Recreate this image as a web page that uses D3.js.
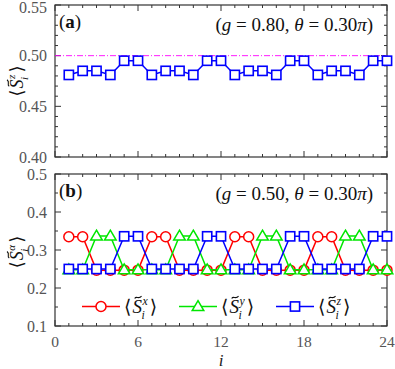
<!DOCTYPE html>
<html><head><meta charset="utf-8">
<script src="https://cdn.jsdelivr.net/npm/d3@7"></script>
<style>body{margin:0;background:#fff}svg{display:block}</style>
</head><body>
<script>
const sites = d3.range(1, 25);
const szA = [0.481,0.485,0.485,0.481,0.495,0.495,0.481,0.485,0.485,0.481,0.495,0.495,0.481,0.485,0.485,0.481,0.495,0.495,0.481,0.485,0.485,0.481,0.495,0.495];
const sxB = [0.335,0.335,0.247,0.247,0.247,0.247,0.335,0.335,0.247,0.247,0.247,0.247,0.335,0.335,0.247,0.247,0.247,0.247,0.335,0.335,0.247,0.247,0.247,0.247];
const syB = [0.248,0.248,0.337,0.337,0.248,0.248,0.248,0.248,0.337,0.337,0.248,0.248,0.248,0.248,0.337,0.337,0.248,0.248,0.248,0.248,0.337,0.337,0.248,0.248];
const szB = [0.25,0.25,0.25,0.25,0.336,0.336,0.25,0.25,0.25,0.25,0.336,0.336,0.25,0.25,0.25,0.25,0.336,0.336,0.25,0.25,0.25,0.25,0.336,0.336];
const xTicks = [0, 6, 12, 18, 24];
const yTicksA = [0.40, 0.45, 0.50, 0.55];
const yTicksB = [0.1, 0.2, 0.3, 0.4, 0.5];
const refLine = 0.5;

const W = 395, H = 369;
const svg = d3.select("body").append("svg").attr("width", W).attr("height", H);
const L = 55, R = 387;
const x = d3.scaleLinear().domain([0, 24]).range([L, R]);
const yA = d3.scaleLinear().domain([0.40, 0.55]).range([157, 5]);
const yB = d3.scaleLinear().domain([0.1, 0.5]).range([326, 174]);
const font = "'Liberation Serif', 'DejaVu Serif', serif";
const axCol = "#333", lblCol = "#555";

function frame(y, majY, minY, fmt) {
  const g = svg.append("g");
  const [y0, y1] = y.range();
  d3.range(0, 25, 1).forEach(v => {
    const len = v % 6 === 0 ? 6 : 3;
    g.append("line").attr("x1", x(v)).attr("x2", x(v)).attr("y1", y0).attr("y2", y0 - len).attr("stroke", axCol);
    g.append("line").attr("x1", x(v)).attr("x2", x(v)).attr("y1", y1).attr("y2", y1 + len).attr("stroke", axCol);
  });
  minY.forEach(v => {
    const maj = majY.some(m => Math.abs(m - v) < 1e-9);
    const len = maj ? 6 : 3;
    g.append("line").attr("x1", L).attr("x2", L + len).attr("y1", y(v)).attr("y2", y(v)).attr("stroke", axCol);
    g.append("line").attr("x1", R).attr("x2", R - len).attr("y1", y(v)).attr("y2", y(v)).attr("stroke", axCol);
  });
  majY.forEach(v => {
    g.append("text").attr("x", 47).attr("y", Math.max(y(v) + 5.5, 13)).attr("text-anchor", "end")
      .attr("font-family", font).attr("font-size", 16).attr("fill", lblCol).text(fmt(v));
  });
  g.append("rect").attr("x", L).attr("y", y1).attr("width", R - L).attr("height", y0 - y1)
    .attr("fill", "none").attr("stroke", axCol).attr("stroke-width", 1.2);
}

frame(yA, yTicksA, d3.range(0, 16).map(k => 0.40 + k * 0.01), d3.format(".2f"));
frame(yB, yTicksB, d3.range(0, 9).map(k => 0.1 + k * 0.05), d3.format(".1f"));

xTicks.forEach(v => {
  svg.append("text").attr("x", x(v)).attr("y", 346.5).attr("text-anchor", "middle")
    .attr("font-family", font).attr("font-size", 15.5).attr("fill", lblCol).text(v);
});
svg.append("text").attr("x", x(12)).attr("y", 366).attr("text-anchor", "middle")
  .attr("font-family", font).attr("font-size", 17).attr("font-style", "italic").attr("fill", "#222").text("i");

svg.append("line").attr("x1", L).attr("x2", R).attr("y1", yA(refLine)).attr("y2", yA(refLine))
  .attr("stroke", "#ff00ff").attr("stroke-width", 0.9).attr("stroke-dasharray", "6,2,1,2");

const line = (y) => d3.line().x((d, i) => x(sites[i])).y(d => y(d));

function marker(g, type, cx, cy, col) {
  if (type === "circle") {
    g.append("circle").attr("cx", cx).attr("cy", cy).attr("r", 5).attr("fill", "#fff").attr("stroke", col).attr("stroke-width", 1.5);
  } else if (type === "square") {
    g.append("rect").attr("x", cx - 4.6).attr("y", cy - 4.6).attr("width", 9.2).attr("height", 9.2).attr("fill", "#fff").attr("stroke", col).attr("stroke-width", 1.6);
  } else {
    const s = 5.8;
    g.append("path").attr("d", `M${cx},${cy - s}L${cx + s},${cy + s * 0.7}L${cx - s},${cy + s * 0.7}Z`)
      .attr("fill", "#fff").attr("stroke", col).attr("stroke-width", 1.5);
  }
}

function series(data, y, col, type) {
  const g = svg.append("g");
  g.append("path").attr("d", line(y)(data)).attr("fill", "none").attr("stroke", col).attr("stroke-width", 1.5);
  data.forEach((d, i) => marker(g, type, x(sites[i]), y(d), col));
}

series(szA, yA, "#0000ff", "square");
series(sxB, yB, "#ff0000", "circle");
series(syB, yB, "#00e600", "triangle");
series(szB, yB, "#0000ff", "square");

svg.append("text").attr("x", 59).attr("y", 28).attr("font-family", font).attr("font-size", 19).attr("fill", "#111")
  .html("(<tspan font-weight='bold'>a</tspan>)");
svg.append("text").attr("x", 59).attr("y", 197).attr("font-family", font).attr("font-size", 19).attr("fill", "#111")
  .html("(<tspan font-weight='bold'>b</tspan>)");

function param(yPos, gval) {
  svg.append("text").attr("x", 373).attr("y", yPos).attr("text-anchor", "end")
    .attr("font-family", font).attr("font-size", 19).attr("fill", "#111")
    .html(`(<tspan font-style='italic'>g</tspan> = ${gval}, <tspan font-style='italic'>θ</tspan> = 0.30<tspan font-style='italic'>π</tspan>)`);
}
param(31, "0.80");
param(200, "0.50");

function sLabel(g, xPos, yPos, sup, size) {
  const base = (txt, dx, italic) => g.append("text").attr("x", xPos + dx).attr("y", yPos)
    .attr("font-family", font).attr("font-size", size).attr("fill", "#111")
    .attr("font-style", italic ? "italic" : "normal").text(txt);
  let cx = 0;
  const t1 = base("⟨", cx, false); cx += t1.node().getComputedTextLength() + 1;
  const t2 = base("S", cx, true); const sw = t2.node().getComputedTextLength();
  const tx = xPos + cx + sw * 0.6, ty = yPos - size * 0.83, tw = sw * 0.36;
  g.append("path").attr("d", `M${tx - tw},${ty + 1.2} C${tx - tw * 0.5},${ty - 1.8} ${tx + tw * 0.1},${ty + 2.5} ${tx + tw},${ty - 1}`)
    .attr("fill", "none").attr("stroke", "#111").attr("stroke-width", 1.1);
  cx += sw + 0.5;
  const small = size * 0.62;
  const tsup = g.append("text").attr("x", xPos + cx).attr("y", yPos - size * 0.42)
    .attr("font-family", font).attr("font-size", small).attr("font-style", "italic").attr("fill", "#111").text(sup);
  const tsub = g.append("text").attr("x", xPos + cx - 1).attr("y", yPos + size * 0.3)
    .attr("font-family", font).attr("font-size", small).attr("font-style", "italic").attr("fill", "#111").text("i");
  cx += Math.max(tsup.node().getComputedTextLength(), tsub.node().getComputedTextLength()) + 2;
  const t3 = base("⟩", cx, false); cx += t3.node().getComputedTextLength();
  return cx;
}

function yLabel(cxPos, cyPos, sup) {
  const g = svg.append("g").attr("transform", `translate(${cxPos},${cyPos}) rotate(-90)`);
  const inner = g.append("g");
  const w = sLabel(inner, 0, 0, sup, 18);
  inner.attr("transform", `translate(${-w / 2},0)`);
}
yLabel(23, 81, "z");
yLabel(23, 252, "α");

const legY = 306.5;
const leg = [
  {x0: 82, x1: 120, tx: 124, col: "#ff0000", type: "circle", sup: "x"},
  {x0: 179, x1: 217, tx: 221, col: "#00e600", type: "triangle", sup: "y"},
  {x0: 276, x1: 314, tx: 318, col: "#0000ff", type: "square", sup: "z"}
];
leg.forEach(d => {
  const g = svg.append("g");
  g.append("line").attr("x1", d.x0).attr("x2", d.x1).attr("y1", legY).attr("y2", legY).attr("stroke", d.col).attr("stroke-width", 1.5);
  marker(g, d.type, (d.x0 + d.x1) / 2, legY, d.col);
  sLabel(g, d.tx, legY + 6.5, d.sup, 19);
});
</script>
</body></html>
